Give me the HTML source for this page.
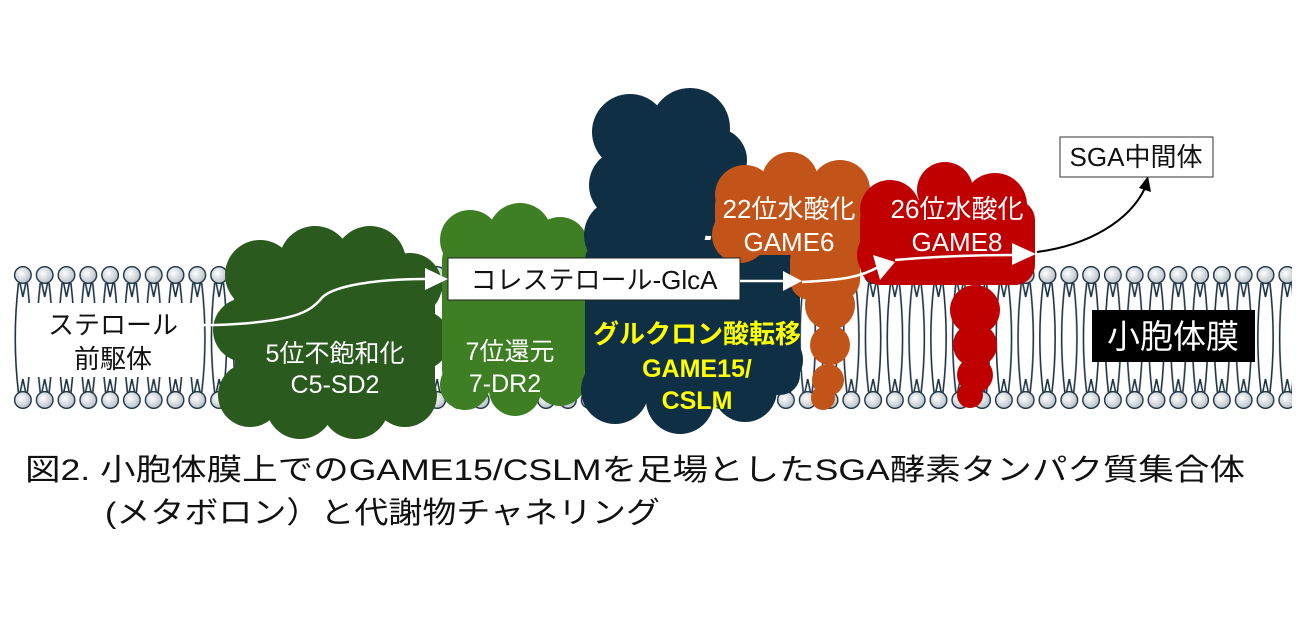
<!DOCTYPE html>
<html><head><meta charset="utf-8">
<style>
html,body{margin:0;padding:0;background:#fff;}
svg{display:block;}
text{font-family:"Liberation Sans","Noto Sans CJK JP",sans-serif;}
</style></head>
<body>
<svg width="1300" height="628" viewBox="0 0 1300 628" xmlns="http://www.w3.org/2000/svg">
<defs>
<radialGradient id="hd" cx="0.4" cy="0.4" r="0.6">
<stop offset="0" stop-color="#ffffff"/><stop offset="1" stop-color="#b9c2c9"/>
</radialGradient>
<pattern id="mem" patternUnits="userSpaceOnUse" x="12" y="265" width="21.8" height="146">
<path d="M6.5,18 Q0,73 6.5,128 M15.3,18 Q21.8,73 15.3,128 M8,18 L10.9,32 L13.8,18 M8,128 L10.9,114 L13.8,128" fill="none" stroke="#1d3345" stroke-width="1.6"/>
<circle cx="10.9" cy="10" r="8.3" fill="url(#hd)" stroke="#1d3345" stroke-width="1.4"/>
<circle cx="10.9" cy="135" r="8.3" fill="url(#hd)" stroke="#1d3345" stroke-width="1.4"/>
</pattern>
</defs>
<rect x="12" y="265" width="1280" height="146" fill="url(#mem)"/>

<rect x="28" y="303" width="172" height="74" fill="#fff"/>
<text x="113" y="334" font-size="26" text-anchor="middle" fill="#111">ステロール</text>
<text x="113" y="368" font-size="26" text-anchor="middle" fill="#111">前駆体</text>

<g fill="#2b5a1f">
<circle cx="260" cy="275" r="35"/><circle cx="315" cy="262" r="36"/><circle cx="370" cy="262" r="36"/><circle cx="410" cy="285" r="32"/>
<circle cx="245" cy="330" r="32"/><circle cx="420" cy="340" r="30"/>
<circle cx="250" cy="395" r="32"/><circle cx="300" cy="405" r="34"/><circle cx="355" cy="405" r="34"/><circle cx="405" cy="395" r="32"/>
<rect x="235" y="265" width="200" height="140"/>
</g>
<g fill="#3f7f24">
<circle cx="470" cy="240" r="30"/><circle cx="520" cy="235" r="32"/><circle cx="560" cy="245" r="28"/>
<circle cx="465" cy="385" r="25"/><circle cx="515" cy="390" r="26"/><circle cx="560" cy="380" r="26"/>
<rect x="442" y="240" width="143" height="150" rx="20"/>
</g>
<g fill="#0f2f44">
<circle cx="630" cy="132" r="38"/><circle cx="690" cy="128" r="40"/><circle cx="715" cy="160" r="32"/>
<circle cx="625" cy="185" r="36"/><circle cx="665" cy="175" r="40"/><circle cx="710" cy="200" r="36"/>
<circle cx="620" cy="235" r="36"/><circle cx="670" cy="230" r="36"/><circle cx="740" cy="245" r="30"/>
<circle cx="765" cy="300" r="35"/>
<circle cx="615" cy="390" r="34"/><circle cx="680" cy="400" r="34"/><circle cx="745" cy="390" r="32"/><circle cx="775" cy="360" r="28"/>
<rect x="585" y="240" width="215" height="155" rx="20"/>
</g>
<g fill="#c2541a">
<circle cx="745" cy="195" r="30"/><circle cx="790" cy="180" r="28"/><circle cx="840" cy="190" r="30"/>
<circle cx="740" cy="235" r="28"/><circle cx="850" cy="240" r="25"/>
<rect x="715" y="190" width="155" height="65" rx="15"/>
<rect x="790" y="240" width="70" height="60" rx="20"/>
<circle cx="830" cy="305" r="25"/><circle cx="830" cy="345" r="20"/><circle cx="828" cy="380" r="16"/><circle cx="823" cy="398" r="12"/>
</g>
<g fill="#c00000">
<circle cx="890" cy="210" r="30"/><circle cx="945" cy="190" r="28"/><circle cx="995" cy="205" r="32"/>
<circle cx="885" cy="255" r="28"/><circle cx="1010" cy="250" r="25"/>
<rect x="860" y="200" width="175" height="85" rx="20"/>
<circle cx="975" cy="310" r="25"/><circle cx="975" cy="345" r="22"/><circle cx="975" cy="375" r="18"/><circle cx="970" cy="395" r="13"/>
</g>

<text x="335" y="362" font-size="25" text-anchor="middle" fill="#fff">5位不飽和化</text>
<text x="335" y="393" font-size="25" text-anchor="middle" fill="#fff">C5-SD2</text>
<text x="510" y="360" font-size="25" text-anchor="middle" fill="#fff">7位還元</text>
<text x="505" y="392" font-size="25" text-anchor="middle" fill="#fff">7-DR2</text>
<text x="697" y="343" font-size="26" font-weight="bold" text-anchor="middle" fill="#ffff00">グルクロン酸転移</text>
<text x="697" y="377" font-size="25" font-weight="bold" text-anchor="middle" fill="#ffff00">GAME15/</text>
<text x="697" y="409" font-size="25" font-weight="bold" text-anchor="middle" fill="#ffff00">CSLM</text>
<text x="789" y="218" font-size="26" text-anchor="middle" fill="#fff">22位水酸化</text>
<text x="789" y="251" font-size="26" text-anchor="middle" fill="#fff">GAME6</text>
<text x="957" y="218" font-size="26" text-anchor="middle" fill="#fff">26位水酸化</text>
<text x="957" y="251" font-size="26" text-anchor="middle" fill="#fff">GAME8</text>

<rect x="448" y="258" width="292" height="42" fill="#fff" stroke="#222" stroke-width="1"/>
<text x="594" y="289" font-size="26" text-anchor="middle" fill="#111">コレステロール-GlcA</text>

<path d="M200,325 L215,325 C300,322 310,310 320,300 C330,285 380,279 425,279" fill="none" stroke="#fff" stroke-width="2.5"/>
<polygon points="425,268 448,279 425,290" fill="#fff"/>
<path d="M740,281 L785,281" fill="none" stroke="#fff" stroke-width="2.5"/>
<polygon points="783,271 802,281 783,291" fill="#fff"/>
<path d="M802,282 C840,280 860,278 880,266" fill="none" stroke="#fff" stroke-width="2.5"/>
<polygon points="873,255 895,262 880,280" fill="#fff"/>
<path d="M895,260 C940,256 980,255 1015,255" fill="none" stroke="#fff" stroke-width="2.5"/>
<polygon points="1012,243 1036,254 1012,265" fill="#fff"/>
<path d="M1037,252 C1090,245 1130,220 1145,188" fill="none" stroke="#000" stroke-width="2"/>
<polygon points="1139,188 1148,176 1151,192" fill="#000"/>

<rect x="1060" y="137" width="153" height="40" fill="#fff" stroke="#333" stroke-width="1"/>
<text x="1136" y="166" font-size="26" text-anchor="middle" fill="#111">SGA中間体</text>

<rect x="1092" y="310" width="163" height="52" fill="#000"/>
<text x="1173" y="348" font-size="33" text-anchor="middle" fill="#fff">小胞体膜</text>

<text x="25" y="480" font-size="30" fill="#111" textLength="1220" lengthAdjust="spacingAndGlyphs">図2.  小胞体膜上でのGAME15/CSLMを足場としたSGA酵素タンパク質集合体</text>
<text x="105" y="523" font-size="30" fill="#111" textLength="555" lengthAdjust="spacingAndGlyphs">(メタボロン）と代謝物チャネリング</text>
</svg>
</body></html>
